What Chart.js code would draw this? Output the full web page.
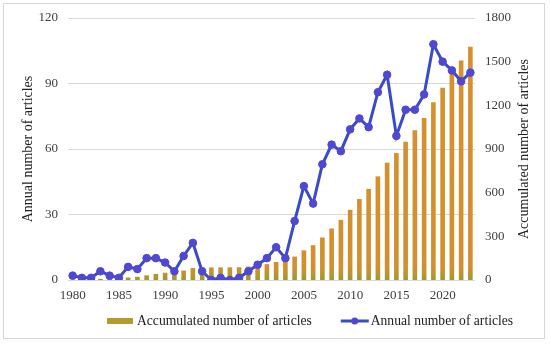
<!DOCTYPE html>
<html>
<head>
<meta charset="utf-8">
<script src="https://cdn.jsdelivr.net/npm/chart.js@4.4.1/dist/chart.umd.min.js"></script>
<style>
  html, body { margin: 0; padding: 0; background: #fff; }
  #wrap { position: relative; width: 550px; height: 346px; }
  #frame { position: absolute; left: 3px; top: 3px; width: 540px; height: 334px; border: 1px solid #d6d6d6; pointer-events: none; }
</style>
</head>
<body>
<div id="wrap">
  <canvas id="myChart" width="550" height="346"></canvas>
  <div id="frame"></div>
</div>
<script>
const years = [1980, 1981, 1982, 1983, 1984, 1985, 1986, 1987, 1988, 1989,
               1990, 1991, 1992, 1993, 1994, 1995, 1996, 1997, 1998, 1999,
               2000, 2001, 2002, 2003, 2004, 2005, 2006, 2007, 2008, 2009,
               2010, 2011, 2012, 2013, 2014, 2015, 2016, 2017, 2018, 2019,
               2020, 2021, 2022, 2023];

// annual number of articles (left axis)
const annual = [2, 1, 1, 4, 2, 1, 6, 5, 10, 10,
                8, 4, 11, 17, 4, 0, 1, 0, 1, 4,
                7, 10, 15, 10, 27, 43, 35, 53, 62, 59,
                69, 74, 70, 86, 94, 66, 78, 78, 85, 108,
                100, 96, 91, 95];

// accumulated number of articles (right axis)
const accumulated = [2, 3, 4, 8, 10, 11, 17, 22, 32, 42,
                     50, 54, 65, 82, 86, 86, 87, 87, 88, 92,
                     99, 109, 124, 134, 161, 204, 239, 292, 354, 413,
                     482, 556, 626, 712, 806, 872, 950, 1028, 1113, 1221,
                     1321, 1417, 1508, 1603];

const leftTicks = [0, 30, 60, 90, 120];
const rightTicks = [0, 300, 600, 900, 1200, 1500, 1800];

const leftTitle = 'Annual number of articles';
const rightTitle = 'Accumulated number of articles';

const serif = '"Liberation Serif", "Times New Roman", serif';
const lineColor = '#3a4cc4';
const pointColor = '#5048d2';
const swatchGold = '#b39b30';

function barGradient(context) {
  const area = context.chart.chartArea;
  if (!area) return '#d38f2e';
  const g = context.chart.ctx.createLinearGradient(0, area.bottom, 0, area.top);
  g.addColorStop(0, '#9c9a2a');
  g.addColorStop(0.025, '#bb9630');
  g.addColorStop(0.05, '#d38f2e');
  g.addColorStop(1, '#d8902c');
  return g;
}

// right axis title (reads bottom to top) + legend at the bottom
const extras = {
  id: 'extras',
  afterDraw(chart) {
    const c = chart.ctx;
    const yR = chart.scales.yRight;
    c.save();
    c.font = '14px ' + serif;
    c.fillStyle = '#222';
    c.textAlign = 'center';
    c.textBaseline = 'middle';
    c.translate(524.5, (yR.top + yR.bottom) / 2);
    c.rotate(-Math.PI / 2);
    c.fillText(rightTitle, 0, 0);
    c.restore();

    const ds = chart.data.datasets;
    const ly = 321;
    c.save();
    c.font = '13.6px ' + serif;
    c.fillStyle = '#222';
    c.textBaseline = 'middle';
    c.textAlign = 'left';
    let x = 107;
    c.fillStyle = swatchGold;
    c.fillRect(x, ly - 3, 26, 6);
    c.fillStyle = '#222';
    c.fillText(ds[1].label, x + 30, ly);
    x = x + 30 + c.measureText(ds[1].label).width + 29;
    c.strokeStyle = lineColor;
    c.lineWidth = 3;
    c.beginPath();
    c.moveTo(x, ly);
    c.lineTo(x + 28, ly);
    c.stroke();
    c.fillStyle = pointColor;
    c.beginPath();
    c.arc(x + 14, ly, 3.5, 0, Math.PI * 2);
    c.fill();
    c.fillStyle = '#222';
    c.fillText(ds[0].label, x + 30, ly);
    c.restore();
  }
};

Chart.defaults.font.family = serif;
Chart.defaults.font.size = 13;
Chart.defaults.color = '#404040';

const ctx = document.getElementById('myChart').getContext('2d');
const myChart = new Chart(ctx, {
  type: 'bar',
  data: {
    labels: years,
    datasets: [{
      type: 'line',
      label: 'Annual number of articles',
      data: annual,
      yAxisID: 'y',
      order: 1,
      borderColor: lineColor,
      borderWidth: 3,
      pointRadius: 3.8,
      pointBackgroundColor: pointColor,
      pointBorderColor: pointColor,
      pointBorderWidth: 1,
      tension: 0,
      fill: false
    }, {
      type: 'bar',
      label: 'Accumulated number of articles',
      data: accumulated,
      yAxisID: 'yRight',
      order: 2,
      backgroundColor: barGradient,
      barPercentage: 0.5,
      categoryPercentage: 1.0
    }]
  },
  options: {
    responsive: false,
    animation: false,
    layout: { padding: { top: 18, left: 0, right: 0, bottom: 36 } },
    plugins: {
      legend: { display: false },
      tooltip: { enabled: false }
    },
    scales: {
      x: {
        grid: { display: false, drawTicks: false },
        border: { display: false },
        ticks: {
          autoSkip: false,
          maxRotation: 0,
          padding: 8,
          callback: function (v, i) { return years[i] % 5 === 0 ? String(years[i]) : ''; }
        },
        afterFit: function (s) { s.height = 30; }
      },
      y: {
        position: 'left',
        min: 0,
        max: 120,
        afterBuildTicks: function (s) { s.ticks = leftTicks.map(v => ({ value: v })); },
        grid: { color: '#d9d9d9', lineWidth: 1, drawTicks: false },
        border: { display: false },
        ticks: { padding: 10, callback: function (v) { return String(v); } },
        title: {
          display: true,
          text: leftTitle,
          color: '#222',
          font: { size: 14, family: serif },
          padding: { top: 20, bottom: 0 }
        },
        afterFit: function (s) { s.width = 68; }
      },
      yRight: {
        position: 'right',
        min: 0,
        max: 1800,
        afterBuildTicks: function (s) { s.ticks = rightTicks.map(v => ({ value: v })); },
        grid: { display: false, drawTicks: false },
        border: { display: false },
        ticks: { padding: 10, callback: function (v) { return String(v); } },
        afterFit: function (s) { s.width = 75; }
      }
    }
  },
  plugins: [extras]
});
</script>
</body>
</html>
